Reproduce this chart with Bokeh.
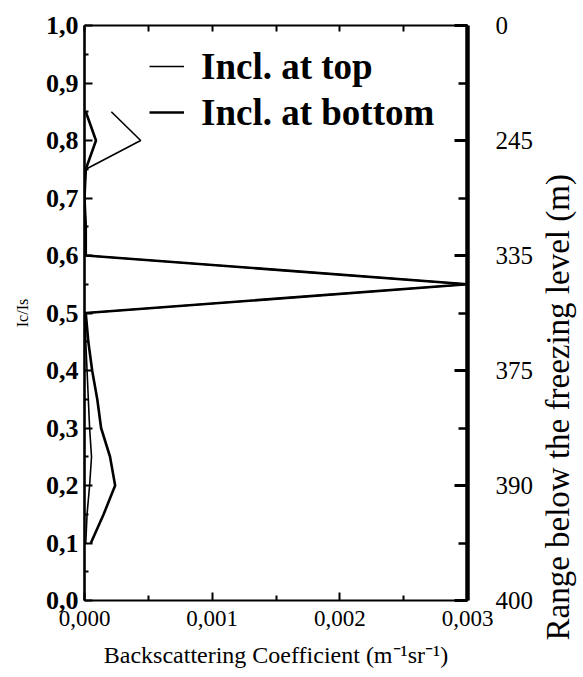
import math
from bokeh.plotting import figure
from bokeh.layouts import row
from bokeh.models import Range1d, LinearAxis, FixedTicker, Legend, LegendItem, Title
from bokeh.embed import file_html
from bokeh.resources import INLINE

# normalized height levels (left axis)
levels = [0.10, 0.15, 0.20, 0.25, 0.30, 0.35, 0.40, 0.45, 0.50, 0.55, 0.60, 0.65, 0.70, 0.75, 0.80, 0.85]
# backscattering coefficient (m^-1 sr^-1)
incl_top = [0.00001, 0.00002, 0.00004, 0.000055, 0.00004, 0.00003, 0.00002, 0.00001, 0.00001,
            0.003, 0.00001, 0.00001, 0.0, 0.00001, 0.00044, 0.00021]
incl_bottom = [0.00005, 0.00015, 0.00024, 0.00020, 0.00013, 0.00010, 0.00006, 0.00003, 0.00001,
               0.003, 0.00001, 0.00001, 0.0, 0.00001, 0.00009, 0.00001]

y_ticks = [round(0.1 * i, 1) for i in range(11)]
y_tick_labels = ["0,0", "0,1", "0,2", "0,3", "0,4", "0,5", "0,6", "0,7", "0,8", "0,9", "1,0"]
y_minor = [round(0.05 + 0.1 * i, 2) for i in range(10)]

x_ticks = [0.0, 0.001, 0.002, 0.003]
x_tick_labels = ["0,000", "0,001", "0,002", "0,003"]
x_minor = [0.0005, 0.0015, 0.0025]
top_ticks = [0.0, 0.0005, 0.001, 0.0015, 0.002, 0.0025, 0.003]

range_ticks = [0.0, 0.2, 0.4, 0.6, 0.8, 1.0]
range_labels = ["400", "390", "375", "335", "245", "0"]
range_minor = [0.1, 0.3, 0.5, 0.7, 0.9]

SERIF = "Liberation Serif"

p = figure(width=539, height=677, output_backend="svg", toolbar_location=None,
           x_range=Range1d(0, 0.003), y_range=Range1d(0, 1),
           min_border_left=84, min_border_right=72, min_border_top=25, min_border_bottom=77)
p.xgrid.grid_line_color = None
p.ygrid.grid_line_color = None
p.outline_line_color = None

r_bot = p.line(incl_bottom, levels, line_color="black", line_width=2.6)
r_top = p.line(incl_top, levels, line_color="black", line_width=1.6)

# bottom axis
xa = p.xaxis[0]
xa.ticker = FixedTicker(ticks=x_ticks, minor_ticks=x_minor)
xa.major_label_overrides = dict(zip(x_ticks, x_tick_labels))
xa.major_tick_in = 8
xa.major_tick_out = 0
xa.minor_tick_in = 5
xa.minor_tick_out = 0
xa.axis_line_width = 2
xa.major_tick_line_width = 2
xa.minor_tick_line_width = 2
xa.major_label_text_font = SERIF
xa.major_label_text_font_size = "23px"
xa.major_label_text_color = "black"
xa.major_label_standoff = 10
xa.axis_label = "Backscattering Coefficient (m\u207b\u00b9sr\u207b\u00b9)"
xa.axis_label_text_font = SERIF
xa.axis_label_text_font_style = "normal"
xa.axis_label_text_font_size = "24px"
xa.axis_label_text_color = "black"
xa.axis_label_standoff = 13

# left axis
ya = p.yaxis[0]
ya.ticker = FixedTicker(ticks=y_ticks, minor_ticks=y_minor)
ya.major_label_overrides = dict(zip(y_ticks, y_tick_labels))
ya.major_tick_in = 8
ya.major_tick_out = 0
ya.minor_tick_in = 4
ya.minor_tick_out = 0
ya.axis_line_width = 2.6
ya.major_tick_line_width = 2
ya.minor_tick_line_width = 2
ya.major_label_text_font = SERIF
ya.major_label_text_font_style = "bold"
ya.major_label_text_font_size = "26px"
ya.major_label_text_color = "black"
ya.major_label_standoff = 6
ya.axis_label = "Ic/Is"
ya.axis_label_text_font = SERIF
ya.axis_label_text_font_style = "normal"
ya.axis_label_text_font_size = "16px"
ya.axis_label_text_color = "black"
ya.axis_label_standoff = 12

# top axis (ticks only)
ta = LinearAxis(ticker=FixedTicker(ticks=top_ticks, minor_ticks=[]),
                major_tick_in=6, major_tick_out=0, minor_tick_in=0, minor_tick_out=0,
                axis_line_width=2, major_tick_line_width=2,
                major_label_overrides={t: "" for t in top_ticks},
                major_label_text_alpha=0, major_label_standoff=0)
p.add_layout(ta, "above")

# right axis: range below freezing level
ra = LinearAxis(ticker=FixedTicker(ticks=range_ticks, minor_ticks=range_minor),
                major_tick_in=13, major_tick_out=0, minor_tick_in=9, minor_tick_out=0,
                axis_line_width=4.5, major_tick_line_width=3, minor_tick_line_width=2.5,
                major_label_text_font=SERIF, major_label_text_font_size="25px",
                major_label_text_color="black", major_label_standoff=28)
ra.major_label_overrides = dict(zip(range_ticks, range_labels))
p.add_layout(ra, "right")

legend = Legend(items=[LegendItem(label="Incl. at top", renderers=[r_top]),
                       LegendItem(label="Incl. at bottom", renderers=[r_bot])],
                location=(65, 465), padding=0, margin=0, spacing=0,
                glyph_width=35, glyph_height=46, label_height=46, label_standoff=17,
                label_text_font=SERIF, label_text_font_style="bold",
                label_text_font_size="37px", label_text_color="black",
                border_line_color=None, background_fill_alpha=0)
p.add_layout(legend)

# side strip carrying the right-hand axis title (reads bottom to top)
p2 = figure(width=44, height=677, output_backend="svg", toolbar_location=None,
            x_axis_location=None, y_axis_location=None,
            min_border_left=0, min_border_right=0, min_border_top=0, min_border_bottom=0)
p2.xgrid.grid_line_color = None
p2.ygrid.grid_line_color = None
p2.outline_line_color = None
p2.add_layout(Title(text="Range below the freezing level (m)", align="left", offset=-40,
                    standoff=0, vertical_align="top", text_font=SERIF, text_font_style="normal",
                    text_font_size="33px", text_color="black"), "left")

layout = row(p, p2)
open("out.html", "w").write(file_html(layout, INLINE))
